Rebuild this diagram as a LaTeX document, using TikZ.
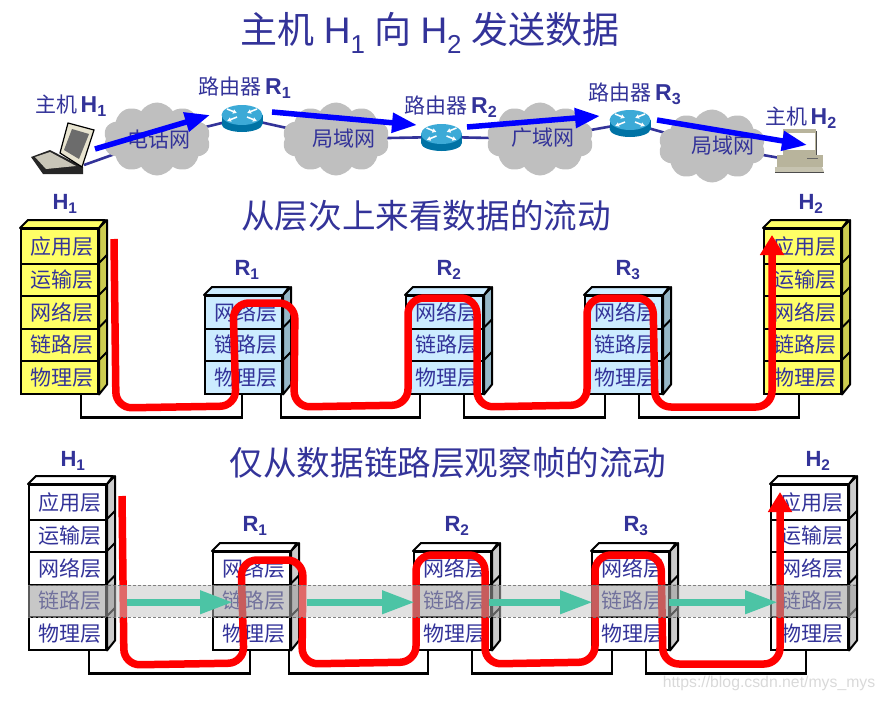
\documentclass[tikz,border=0pt]{standalone}
\usepackage{fontspec}
\setmainfont{Liberation Sans}
\newfontfamily\cjk{Noto Sans CJK SC}
\usetikzlibrary{arrows.meta,shapes.symbols,backgrounds}

\definecolor{inkblue}{RGB}{51,51,153}
\definecolor{hostfill}{RGB}{255,255,102}
\definecolor{hostside}{RGB}{204,204,80}
\definecolor{routerfill}{RGB}{204,236,255}
\definecolor{routerside}{RGB}{150,184,200}
\definecolor{plainside}{RGB}{204,204,204}
\definecolor{cloudgray}{RGB}{191,191,191}
\definecolor{frameteal}{RGB}{76,196,165}
\definecolor{routertop}{RGB}{60,170,215}
\definecolor{routerbody}{RGB}{0,115,165}
\definecolor{pcbeige}{RGB}{184,180,156}
\definecolor{lidbeige}{RGB}{232,228,208}

\tikzset{
  title/.style={text=inkblue,font=\cjk\fontsize{33.6}{38}\selectfont},
  bigtitle/.style={text=inkblue,font=\cjk\fontsize{37}{42}\selectfont},
  caption/.style={text=inkblue,font=\cjk\fontsize{21}{25}\selectfont},
  stackname/.style={text=inkblue,font=\rmfamily\bfseries\fontsize{22}{26}\selectfont},
  layer/.style={draw=black,line width=2pt,anchor=north west,minimum width=77pt,inner sep=1pt,
                text=inkblue,font=\cjk\fontsize{21}{25}\selectfont},
  face/.style={draw=black,line width=2pt,line join=round},
  net/.style={cloud,cloud puffs=10,cloud puff arc=115,aspect=1.45,fill=cloudgray,inner sep=0pt,
              minimum width=107pt,minimum height=73pt},
  phone/.style={draw=inkblue,line width=2.6pt},
  wire/.style={draw=black,line width=2.4pt},
  packet/.style={draw=blue,line width=5.5pt,-{Triangle[length=25pt,width=19pt]}},
  bits/.style={draw=red,line width=7.5pt,rounded corners=16pt,-{Triangle[length=20pt,width=23pt]}},
  frame/.style={draw=frameteal,line width=7pt,-{Triangle[length=33pt,width=22pt]}},
  routerbox/.style={minimum width=41pt,minimum height=27pt,inner sep=0pt},
}

\newcommand{\hostlayers}{a/应用层/0/35,t/运输层/35/32,n/网络层/67/32.5,l/链路层/99.5/32.5,p/物理层/132/32.5}
\newcommand{\routerlayers}{n/网络层/67/32.5,l/链路层/99.5/32.5,p/物理层/132/32.5}
\newcommand{\capname}[2]{{\rmfamily\bfseries\fontsize{23}{25}\selectfont #1\textsubscript{#2}}}

% name, x, y, front, side, top, layers, first layer
\newcommand{\layerstack}[8]{
  \foreach \id/\txt/\dy/\h in #7 {
    \node (#1\id) [layer,fill=#4,minimum height=\h pt] at (#2,#3+\dy) {\hspace*{5pt}\txt};
    \draw[face,fill=#5] (#1\id.north east) -- ++(8,-8) -- ++(0,\h) -- (#1\id.south east) -- cycle;
  }
  \draw[face,fill=#6] (#1#8.north west) -- ++(8,-8) -- ++(77,0) -- (#1#8.north east) -- cycle;
}

% name, x, y
\newcommand{\ciscorouter}[3]{
  \node (#1) [routerbox] at (#2,#3) {};
  \begin{scope}[shift={(#2,#3)}]
    \fill[routerbody] (0,6) circle[x radius=20.5,y radius=8];
    \fill[routerbody] (-20.5,-3) rectangle (20.5,6);
    \fill[routertop] (0,-3) circle[x radius=20.5,y radius=10];
    \foreach \ax/\ay/\bx/\by in {-15/-9/-5/-5, 15/-9/5/-5, -5/-1/-15/3, 5/-1/15/3}
      \draw[white,line width=1.5pt,-{Latex[length=4pt,width=5pt]}] (\ax,\ay) -- (\bx,\by);
  \end{scope}
}

\newcommand{\bitpath}{
  \draw[bits] (114,239) -- (116,408) -- (236,406) -- (233,303) -- (295,303) -- (294,407)
    -- (408,405) -- (408,298) -- (477,298) -- (477,407) -- (587,405) -- (587,298)
    -- (653,298) -- (655,407) -- (772,407) -- (772,235);
}

\begin{document}
\begin{tikzpicture}[x=1pt,y=-1pt]
    \useasboundingbox (0,0) rectangle (884,701);

    % Titles
    \node (maintitle) [bigtitle] at (430,33) {主机\hspace{9pt}{\rmfamily H\textsubscript{1}}\hspace{9pt}向\hspace{9pt}{\rmfamily H\textsubscript{2}}\hspace{9pt}发送数据};
    \node (layertitle) [title] at (426,216) {从层次上来看数据的流动};
    \node (linktitle) [title] at (448,463) {仅从数据链路层观察帧的流动};

    % Network on top
    \coordinate (h1port) at (84,165);
    \coordinate (h2port) at (780,158);
    \node (net1) [net] at (157,139) {};
    \node (net2) [net] at (336,139) {};
    \node (net3) [net] at (540,139) {};
    \node (net4) [net] at (712,146) {};
    \node (tnet1) [caption] at (159,140) {电话网};
    \node (tnet2) [caption] at (344,139) {局域网};
    \node (tnet3) [caption] at (543,138) {广域网};
    \node (tnet4) [caption] at (723,146) {局域网};

    \ciscorouter{r1}{242}{118}
    \ciscorouter{r2}{441.5}{137}
    \ciscorouter{r3}{630}{123}

    \begin{scope}[on background layer]
      \draw[phone] (h1port) -- (net1.center) -- (r1.center) -- (net2.center) -- (r2.center)
        -- (net3.center) -- (r3.center) -- (net4.center) -- (h2port);
    \end{scope}

    % Laptop
    \fill[black!85] (31,157) -- (50,150) -- (83,167) -- (83,174) -- (43,174) -- cycle;
    \fill[lidbeige!70!gray] (35,157) -- (50,152) -- (76,166) -- (46,169) -- cycle;
    \draw[black,line width=1.2pt,fill=lidbeige] (68,123) -- (94,130) -- (82,167) -- (60,153) -- cycle;
    \fill[gray!85!black] (72,129) -- (89,134) -- (79,159) -- (64,150) -- cycle;

    % Desktop
    \fill[pcbeige] (783,129) rectangle (816,155);
    \fill[white] (785,133) rectangle (815,150);
    \draw[black!70,line width=1pt] (816,131) -- (816,155);
    \fill[pcbeige] (777,155) rectangle (823,167);
    \draw[black!60,line width=1pt] (807,158) -- (818,158);
    \fill[pcbeige!80] (775,167) -- (778,167) -- (822,167) -- (824,172) -- (775,172) -- cycle;
    \draw[black!70,line width=1pt] (775,172) -- (824,172);

    % Labels
    \node (lh1) [caption] at (71,106) {主机\,\capname{H}{1}};
    \node (lr1) [caption] at (245,88) {路由器\,\capname{R}{1}};
    \node (lr2) [caption] at (451,107) {路由器\,\capname{R}{2}};
    \node (lr3) [caption] at (635,94) {路由器\,\capname{R}{3}};
    \node (lh2) [caption] at (801,118) {主机\,\capname{H}{2}};

    % Packet arrows
    \coordinate (a1) at (95,149);   \coordinate (b1) at (210,115);
    \coordinate (a2) at (272,112);  \coordinate (b2) at (417,125);
    \coordinate (a3) at (467,127);  \coordinate (b3) at (600,116);
    \coordinate (a4) at (657,120);  \coordinate (b4) at (807,145);
    \foreach \i in {1,2,3,4}
      \draw[packet] (a\i) -- (b\i);

    % Middle row
    \layerstack{mh1}{20}{228}{hostfill}{hostside}{hostfill}{\hostlayers}{a}
    \layerstack{mr1}{204}{228}{routerfill}{routerside}{routerfill}{\routerlayers}{n}
    \layerstack{mr2}{405}{228}{routerfill}{routerside}{routerfill}{\routerlayers}{n}
    \layerstack{mr3}{584}{228}{routerfill}{routerside}{routerfill}{\routerlayers}{n}
    \layerstack{mh2}{763}{228}{hostfill}{hostside}{hostfill}{\hostlayers}{a}

    \node (mnh1) [stackname] at (65,204) {H\textsubscript{1}};
    \node (mnr1) [stackname] at (247,270) {R\textsubscript{1}};
    \node (mnr2) [stackname] at (449,270) {R\textsubscript{2}};
    \node (mnr3) [stackname] at (628,270) {R\textsubscript{3}};
    \node (mnh2) [stackname] at (811,204) {H\textsubscript{2}};

    % Bottom row
    \layerstack{bh1}{28}{484}{white}{plainside}{white}{\hostlayers}{a}
    \layerstack{br1}{212}{484}{white}{plainside}{white}{\routerlayers}{n}
    \layerstack{br2}{413}{484}{white}{plainside}{white}{\routerlayers}{n}
    \layerstack{br3}{591}{484}{white}{plainside}{white}{\routerlayers}{n}
    \layerstack{bh2}{770}{484}{white}{plainside}{white}{\hostlayers}{a}

    \node (bnh1) [stackname] at (73,461) {H\textsubscript{1}};
    \node (bnr1) [stackname] at (255,526) {R\textsubscript{1}};
    \node (bnr2) [stackname] at (457,526) {R\textsubscript{2}};
    \node (bnr3) [stackname] at (636,526) {R\textsubscript{3}};
    \node (bnh2) [stackname] at (818,461) {H\textsubscript{2}};

    % Wires
    \foreach \row in {m,b}
      \foreach \a/\i/\b/\j in {h1/61/r1/38, r1/77/r2/15, r2/59/r3/21, r3/55/h2/36}
        \draw[wire] ([xshift=\i pt]\row\a p.south west) -- ++(0,23) -| ([xshift=\j pt]\row\b p.south west);

    % Arrows
    \bitpath
    \begin{scope}[shift={(8,257)}]
      \bitpath
    \end{scope}

    % Link layer band
    \node (band) [anchor=north west,minimum width=828pt,minimum height=32pt,inner sep=0pt,
                  fill={rgb,255:red,198;green,198;blue,198},fill opacity=.53] at (28,585) {};
    \draw[gray,densely dashed,line width=.7pt] (band.north west) -- (band.north east);
    \draw[gray,densely dashed,line width=.7pt] (band.south west) -- (band.south east);
    \foreach \s in {bh1,br1,br2,br3,bh2}
      \fill[black,opacity=.11] (\s l.north west) rectangle ([xshift=8pt]\s l.south east);

    \foreach \a/\i/\b/\j in {bh1/20/br1/21, br1/16/br2/2, br2/-3/br3/2, br3/-1/bh2/8}
      \draw[frame] ([shift={(\i pt,-1.5pt)}]\a l.east) -- ([shift={(\j pt,-1.5pt)}]\b l.west);

    % Watermark
    \node (mark) [text=black!15,font=\fontsize{15.8}{20}\selectfont] at (769,683) {https://blog.csdn.net/mys\_mys};

\end{tikzpicture}
\end{document}
